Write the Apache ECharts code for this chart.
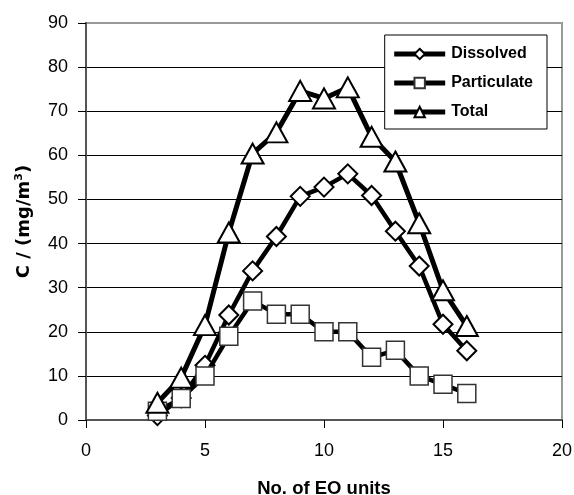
<!DOCTYPE html>
<html>
<head>
<meta charset="utf-8">
<script src="https://cdn.jsdelivr.net/npm/echarts@6/dist/echarts.min.js"></script>
<style>
  html, body { margin: 0; padding: 0; background: #fff; }
  #main { width: 574px; height: 495px; }
</style>
</head>
<body>
<div id="main"></div>
<script>
var units = [3, 4, 5, 6, 7, 8, 9, 10, 11, 12, 13, 14, 15, 16];
var dissolved = [1, 5, 12.4, 23.8, 33.8, 41.6, 50.7, 52.8, 55.8, 50.9, 42.8, 34.9, 21.7, 15.7];
var particulate = [2, 4.9, 10, 19, 27, 24, 24, 20, 20, 14.2, 15.8, 10, 8.1, 6];
var total = [3.9, 9.6, 21.5, 42.5, 60.4, 65.2, 74.6, 72.9, 75.4, 64.2, 58.6, 44.6, 29.4, 21.3];

function pairs(vals) {
    return units.map(function (u, i) { return [u, vals[i]]; });
}

var myChart = echarts.init(document.getElementById('main'));
var option = {
    animation: false,
    backgroundColor: '#fff',
    textStyle: { fontFamily: 'Liberation Sans, Arial, sans-serif' },
    legend: {
        data: ['Dissolved', 'Particulate', 'Total'],
        orient: 'vertical',
        right: 27,
        top: 35,
        itemWidth: 51,
        itemHeight: 13,
        itemGap: 13,
        padding: [11, 14, 9, 7],
        borderColor: '#000',
        borderWidth: 1,
        backgroundColor: '#fff',
        lineStyle: { width: 5 },
        textStyle: { fontSize: 16, fontWeight: 'bold', color: '#000', padding: [0, 0, 0, 1] }
    },
    grid: {
        left: 86,
        right: 12,
        top: 23,
        bottom: 75,
        outerBoundsMode: 'none',
        show: true,
        borderColor: '#999',
        borderWidth: 2
    },
    xAxis: {
        type: 'value',
        min: 0,
        max: 20,
        interval: 5,
        name: 'No. of EO units',
        nameLocation: 'middle',
        nameGap: 59,
        nameTextStyle: { fontSize: 18.5, fontWeight: 'bold', color: '#000' },
        axisLine: { lineStyle: { color: '#555', width: 2 } },
        axisTick: { show: true, length: 8, lineStyle: { color: '#000' } },
        axisLabel: { fontSize: 18, color: '#000', margin: 22 },
        splitLine: { show: false }
    },
    yAxis: {
        type: 'value',
        min: 0,
        max: 90,
        interval: 10,
        name: 'C / (mg/m{sup|3})',
        nameLocation: 'middle',
        nameGap: 52,
        nameRotate: 90,
        nameTextStyle: {
            fontSize: 18, fontWeight: 'bold', color: '#000', fontFamily: 'DejaVu Sans',
            rich: { sup: { fontSize: 11, fontWeight: 'bold', fontFamily: 'DejaVu Sans', verticalAlign: 'top', padding: [0, 0, 9, 0] } }
        },
        axisLine: { show: true, lineStyle: { color: '#555', width: 2 } },
        axisTick: { show: true, length: 8, lineStyle: { color: '#000' } },
        axisLabel: { fontSize: 18, color: '#000', margin: 18 },
        splitLine: { show: true, showMaxLine: false, lineStyle: { color: '#000', width: 1 } }
    },
    series: [
        {
            name: 'Dissolved',
            type: 'line',
            data: pairs(dissolved),
            symbol: 'diamond',
            symbolSize: 19,
            lineStyle: { color: '#000', width: 4.5 },
            itemStyle: { color: '#fff', borderColor: '#000', borderWidth: 2 },
            z: 2
        },
        {
            name: 'Particulate',
            type: 'line',
            data: pairs(particulate),
            symbol: 'rect',
            symbolSize: 18,
            lineStyle: { color: '#000', width: 4.5 },
            itemStyle: { color: '#fff', borderColor: '#333', borderWidth: 1.5 },
            z: 3
        },
        {
            name: 'Total',
            type: 'line',
            data: pairs(total),
            symbol: 'triangle',
            symbolSize: [22, 20],
            lineStyle: { color: '#000', width: 5 },
            itemStyle: { color: '#fff', borderColor: '#000', borderWidth: 2 },
            z: 4
        }
    ]
};
myChart.setOption(option);
</script>
</body>
</html>
